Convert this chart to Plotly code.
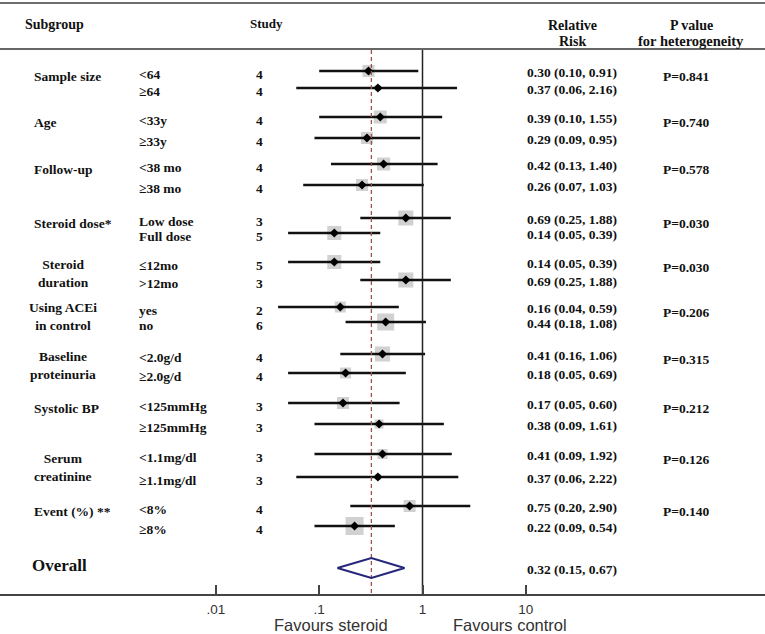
import plotly.graph_objects as go

# ---------------- data ----------------
groups = ["Sample size", "Age", "Follow-up", "Steroid dose*", "Steroid<br>duration",
          "Using ACEi<br>in control", "Baseline<br>proteinuria", "Systolic BP",
          "Serum<br>creatinine", "Event (%) **"]
levels = ["<64", "≥64", "<33y", "≥33y", "<38 mo", "≥38 mo", "Low dose", "Full dose",
          "≤12mo", ">12mo", "yes", "no", "<2.0g/d", "≥2.0g/d", "<125mmHg", "≥125mmHg",
          "<1.1mg/dl", "≥1.1mg/dl", "<8%", "≥8%"]
studies = [4, 4, 4, 4, 4, 4, 3, 5, 5, 3, 2, 6, 4, 4, 3, 3, 3, 3, 4, 4]
rr = [0.30, 0.37, 0.39, 0.29, 0.42, 0.26, 0.69, 0.14, 0.14, 0.69,
      0.16, 0.44, 0.41, 0.18, 0.17, 0.38, 0.41, 0.37, 0.75, 0.22]
lo = [0.10, 0.06, 0.10, 0.09, 0.13, 0.07, 0.25, 0.05, 0.05, 0.25,
      0.04, 0.18, 0.16, 0.05, 0.05, 0.09, 0.09, 0.06, 0.20, 0.09]
hi = [0.91, 2.16, 1.55, 0.95, 1.40, 1.03, 1.88, 0.39, 0.39, 1.88,
      0.59, 1.08, 1.06, 0.69, 0.60, 1.61, 1.92, 2.22, 2.90, 0.54]
weights = [12, 6, 13, 12, 13, 12, 15, 14, 14, 15, 11, 17, 15, 11, 12, 9, 10, 6, 12, 18]
p_het = ["0.841", "0.740", "0.578", "0.030", "0.030", "0.206", "0.315", "0.212", "0.126", "0.140"]
overall = (0.32, 0.15, 0.67)
tick_vals = [0.01, 0.1, 1, 10]
tick_text = [".01", ".1", "1", "10"]

# ---------------- layout constants ----------------
W, H = 765, 634
PLOT_BOTTOM = 594
row_y = [71, 88, 117, 138, 164, 185, 218, 233, 262, 280,
         307, 322, 354, 373, 403, 424, 454, 477, 506, 526]
overall_y = 568
SERIF = "Liberation Serif, Times New Roman, serif"
SANS = "Liberation Sans, Arial, sans-serif"
X_ONE_PX = 422.5
DECADE_PX = 103.3

def px(x):
    return x / W

fig = go.Figure()

# grey weight boxes
fig.add_trace(go.Scatter(x=rr, y=row_y, mode="markers",
                         marker=dict(symbol="square", size=weights, color="#bdbdbd",
                                     line=dict(width=0)),
                         hoverinfo="skip", showlegend=False))
# CI lines
cx, cy = [], []
for l, h, y in zip(lo, hi, row_y):
    cx += [l, h, None]
    cy += [y, y, None]
fig.add_trace(go.Scatter(x=cx, y=cy, mode="lines", line=dict(color="#111111", width=2.6),
                         hoverinfo="skip", showlegend=False))
# point estimates
fig.add_trace(go.Scatter(x=rr, y=row_y, mode="markers",
                         marker=dict(symbol="diamond", size=7, color="#000000"),
                         hoverinfo="skip", showlegend=False))
# null line at 1
fig.add_trace(go.Scatter(x=[1, 1], y=[50, PLOT_BOTTOM], mode="lines",
                         line=dict(color="#222222", width=1.5),
                         hoverinfo="skip", showlegend=False))
# dashed line at overall estimate
fig.add_trace(go.Scatter(x=[overall[0], overall[0]], y=[50, PLOT_BOTTOM], mode="lines",
                         line=dict(color="#a05050", width=1.3, dash="4px,3px"),
                         hoverinfo="skip", showlegend=False))
# overall diamond
est, olo, ohi = overall
fig.add_trace(go.Scatter(x=[olo, est, ohi, est, olo],
                         y=[overall_y, overall_y - 10, overall_y, overall_y + 10, overall_y],
                         mode="lines", line=dict(color="#25257a", width=2),
                         hoverinfo="skip", showlegend=False))

ann = []

def text(x, y, s, size=13, anchor="center", bold=True, font=SERIF, color="#111111", yref="y", align="center"):
    ann.append(dict(x=px(x), xref="paper", y=y, yref=yref, text=("<b>%s</b>" % s) if bold else s,
                    showarrow=False, xanchor=anchor, yanchor="middle", align=align,
                    font=dict(family=font, size=size, color=color)))

# headers
text(55, 24, "Subgroup", size=14)
text(266, 23, "Study", size=13)
text(572, 25, "Relative", size=14)
text(572, 41, "Risk", size=14)
text(691, 25, "P value", size=14)
text(691, 41, "for heterogeneity", size=14.5)

# group labels and heterogeneity p values
pairs = [(row_y[2 * i], row_y[2 * i + 1]) for i in range(len(groups))]
for g, (y1, y2), p in zip(groups, pairs, p_het):
    if "<br>" in g:
        text(63, (y1 + y2) / 2 + 2, g, size=13.5)
    else:
        text(32, y1 + 5, g, size=13.5, anchor="left")
    text(686, y1 + 5, "P=" + p, size=13.5)

# rows
for lev, n, r, l, h, y in zip(levels, studies, rr, lo, hi, row_y):
    text(137, y + 3, lev, size=13.5, anchor="left")
    text(259, y + 3, str(n), size=13.5)
    text(572, y + 1, "%.2f (%.2f, %.2f)" % (r, l, h), size=13.5)

text(30, overall_y - 3, "Overall", size=17, anchor="left")
text(572, overall_y + 1, "%.2f (%.2f, %.2f)" % overall, size=13.5)

# favours labels
fav_y = -(625 - PLOT_BOTTOM) / PLOT_BOTTOM
text(331, fav_y, "Favours steroid", size=16.5, bold=False, font=SANS, color="#333333", yref="paper")
text(510, fav_y, "Favours control", size=16.5, bold=False, font=SANS, color="#333333", yref="paper")

shapes = [
    dict(type="line", xref="paper", yref="y", x0=0, x1=1, y0=3, y1=3,
         line=dict(color="#6e6e6e", width=2)),
    dict(type="line", xref="paper", yref="y", x0=0, x1=1, y0=49, y1=49,
         line=dict(color="#333333", width=1.6)),
]

xmin = -X_ONE_PX / DECADE_PX
xmax = (W - X_ONE_PX) / DECADE_PX

fig.update_layout(
    width=W, height=H,
    margin=dict(l=0, r=0, t=0, b=H - PLOT_BOTTOM, pad=0),
    paper_bgcolor="white", plot_bgcolor="white",
    annotations=ann, shapes=shapes,
    xaxis=dict(type="log", range=[xmin, xmax], showgrid=False, zeroline=False,
               showline=True, linecolor="#444444", linewidth=1.5,
               ticks="inside", ticklen=9, tickwidth=1.5, tickcolor="#444444",
               tickvals=tick_vals, ticktext=tick_text, ticklabelstandoff=2,
               tickfont=dict(family=SANS, size=13.5, color="#333333"), fixedrange=True),
    yaxis=dict(range=[PLOT_BOTTOM, 0], visible=False, showgrid=False, zeroline=False,
               fixedrange=True),
    showlegend=False,
)

fig.write_html("out.html", config={"displayModeBar": False},
               post_script="document.body.style.margin='0px';document.body.style.overflow='hidden';")
